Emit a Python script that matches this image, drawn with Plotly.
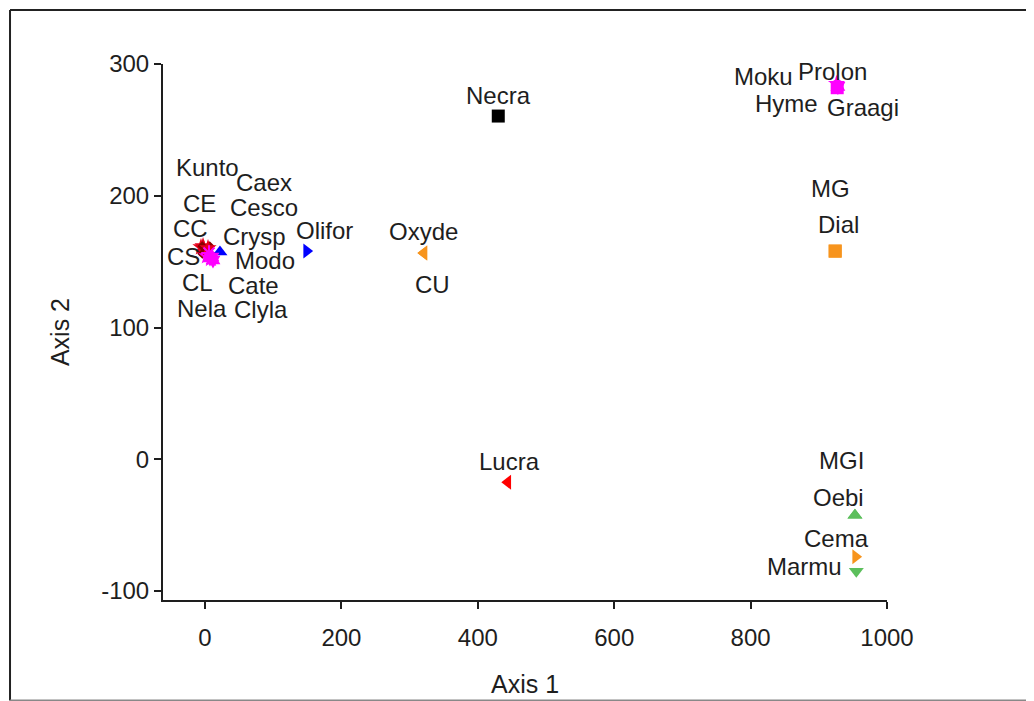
import plotly.graph_objects as go

# ---- data ----
names = ["Necra", "Prolon", "Moku", "Hyme", "Graagi", "MG", "Dial", "Oxyde", "CU",
         "Lucra", "MGI", "Oebi", "Cema", "Marmu", "Olifor",
         "Kunto", "CE", "CC", "CS", "CL", "Nela", "Caex", "Cesco", "Crysp",
         "Modo", "Cate", "Clyla"]
axis1 = [430, 927, 926, 928, 927, 924, 924, 321, 321,
         444, 953, 953, 954, 955, 149,
         -5.9, -1.5, -2.9, 1.5, 2.9, 7.3, 4.4, 5.9, 21.9,
         10.2, 8.8, 11.7]
axis2 = [260.5, 284, 285, 283, 282, 158, 158, 156.5, 156.5,
         -17.4, -42.4, -42.4, -74, -85, 158,
         161.0, 159.5, 161.8, 158.8, 154.2, 152.8, 160.3, 156.5, 157.3,
         153.5, 152.1, 151.3]
colors = ["#000000", "#FF00FF", "#FF00FF", "#FF00FF", "#FF00FF", "#F7941D", "#F7941D",
          "#F7941D", "#F7941D", "#FF0000", "#5CBF5C", "#5CBF5C", "#F7941D", "#5CBF5C",
          "#0000FF",
          "#E8001C", "#E8001C", "#E8001C", "#8B0000", "#FF00FF", "#FF00FF", "#E8001C",
          "#FF00FF", "#0000FF", "#FF00FF", "#FF00FF", "#FF00FF"]
symbols = ["square", "hexagon", "star", "hexagram", "square", "square", "square",
           "triangle-left", "triangle-left", "triangle-left", "triangle-up", "triangle-up",
           "triangle-right", "triangle-down", "triangle-right",
           "star", "star", "star", "x", "star", "hexagram", "star", "asterisk-open",
           "triangle-up", "hexagram", "star", "hexagram"]

# label offsets in pixels (dx right, dy down)
label_offsets = {
    "Necra": (0, -21), "Prolon": (-5, -14), "Moku": (-73, -7), "Hyme": (-51, 17),
    "Graagi": (26, 20), "MG": (-5, -63), "Dial": (3, -27), "Oxyde": (0, -22),
    "CU": (9, 31), "Lucra": (2, -21), "MGI": (-13, -55), "Oebi": (-16, -18),
    "Cema": (-19, -18), "Marmu": (-52, -5), "Olifor": (18, -21),
    "Kunto": (7, -80), "CE": (-4, -46), "CC": (-13, -18), "CS": (-23, 6),
    "CL": (-9, 26), "Nela": (-8, 51), "Caex": (56, -66), "Cesco": (55, -46),
    "Crysp": (35, -16), "Modo": (53, 3), "Cate": (42, 27), "Clyla": (48, 50),
}

x_ticks = [0, 200, 400, 600, 800, 1000]
y_ticks = [-100, 0, 100, 200, 300]
y_ticktext = ["-100", "0", "100", "200", "300"]

FONT = "Liberation Sans, Arial, sans-serif"
TXT = "#1e1e1e"

fig = go.Figure()
for n, xv, yv, c, s in zip(names, axis1, axis2, colors, symbols):
    lw = 2 if s in ("x", "asterisk-open") else 0
    fig.add_trace(go.Scatter(
        x=[xv], y=[yv], mode="markers", name=n, showlegend=False,
        marker=dict(color=c, symbol=s, size=13, line=dict(width=lw, color=c)),
    ))

for n, xv, yv in zip(names, axis1, axis2):
    dx, dy = label_offsets[n]
    fig.add_annotation(x=xv, y=yv, text=n, showarrow=False, xshift=dx, yshift=-dy,
                       font=dict(family=FONT, size=24, color=TXT))

# outer frame: left, top and bottom edges only (right side runs off the image)
FX0, FX1, FY0, FY1 = -0.2113, 1.5, -0.1875, 1.1007
fig.add_shape(type="line", xref="paper", yref="paper", x0=FX0, x1=FX0, y0=FY0, y1=FY1,
              line=dict(color="#222222", width=2))
fig.add_shape(type="line", xref="paper", yref="paper", x0=FX0, x1=FX1, y0=FY1, y1=FY1,
              line=dict(color="#222222", width=2))
fig.add_shape(type="line", xref="paper", yref="paper", x0=FX0, x1=FX1, y0=FY0, y1=FY0,
              line=dict(color="#888888", width=2))

# margins compensate for the page's 8px body offset
fig.update_layout(
    width=1034, height=701,
    margin=dict(l=155, r=155, t=56, b=109),
    paper_bgcolor="white", plot_bgcolor="white",
    font=dict(family=FONT, size=24, color=TXT),
    xaxis=dict(range=[-61.6, 1000], tickvals=x_ticks, showgrid=False, zeroline=False,
               showline=True, linecolor=TXT, linewidth=2, ticks="outside",
               ticklen=7, tickwidth=2, tickcolor=TXT, ticklabelstandoff=8,
               tickfont=dict(size=24, color=TXT),
               title=dict(text="Axis 1", font=dict(size=25, color=TXT), standoff=26)),
    yaxis=dict(range=[-106.8, 300], tickvals=y_ticks, ticktext=y_ticktext,
               showgrid=False, zeroline=False,
               showline=True, linecolor=TXT, linewidth=2, ticks="outside",
               ticklen=7, tickwidth=2, tickcolor=TXT,
               tickfont=dict(size=24, color=TXT),
               title=dict(text="Axis 2", font=dict(size=25, color=TXT), standoff=24)),
)

fig.write_html("out.html", config={"displayModeBar": False})
